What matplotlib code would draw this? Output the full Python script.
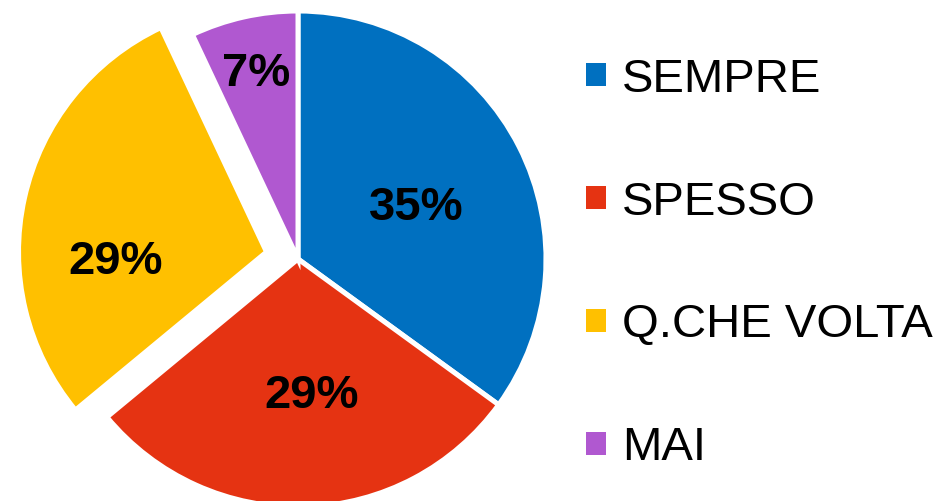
import numpy as np
import matplotlib
matplotlib.use("Agg")
import matplotlib.pyplot as plt

plt.rcParams['font.family'] = ['Liberation Sans', 'DejaVu Sans']

# risposte
categories = ["SEMPRE", "SPESSO", "Q.CHE VOLTA", "MAI"]
percent = [35, 29, 29, 7]
colors = ["#0070C0", "#E53312", "#FFC000", "#B058D0"]
explode = [0, 0, 0.13, 0]

# posizione delle etichette (frazione del raggio, spostamento angolare in gradi)
label_dist = [0.52, 0.55, 0.61, 0.77]
label_shift = [-3, 4, 16, 0]

W, H = 949, 502
cx, cy, R = 298, 242, 248  # centro e raggio in pixel (y dal basso)

fig = plt.figure(figsize=(W / 100, H / 100), dpi=100)
ax = fig.add_axes([0, 0, 1, 1])

wedges, _ = ax.pie(percent, colors=colors, explode=explode, startangle=90,
                   counterclock=False, radius=1,
                   wedgeprops=dict(edgecolor="white", linewidth=3.6, clip_on=False))

ax.set_xlim(-cx / R, (W - cx) / R)
ax.set_ylim(-cy / R, (H - cy) / R)
ax.set_aspect("auto")
ax.axis("off")

for w, p, d, s in zip(wedges, percent, label_dist, label_shift):
    ang = np.deg2rad((w.theta1 + w.theta2) / 2 + s)
    x = w.center[0] + d * np.cos(ang)
    y = w.center[1] + d * np.sin(ang)
    ax.text(x, y, f"{p}%", ha="center", va="center", fontsize=34,
            fontweight="bold", color="black")

fig.legend(wedges, categories, loc="center left",
           bbox_to_anchor=(583 / W, 0.474), frameon=False, fontsize=34,
           handlelength=0.53, handleheight=0.53, handletextpad=0.3,
           labelspacing=1.67, borderpad=0, borderaxespad=0)

fig.savefig("out.png", dpi=100)
